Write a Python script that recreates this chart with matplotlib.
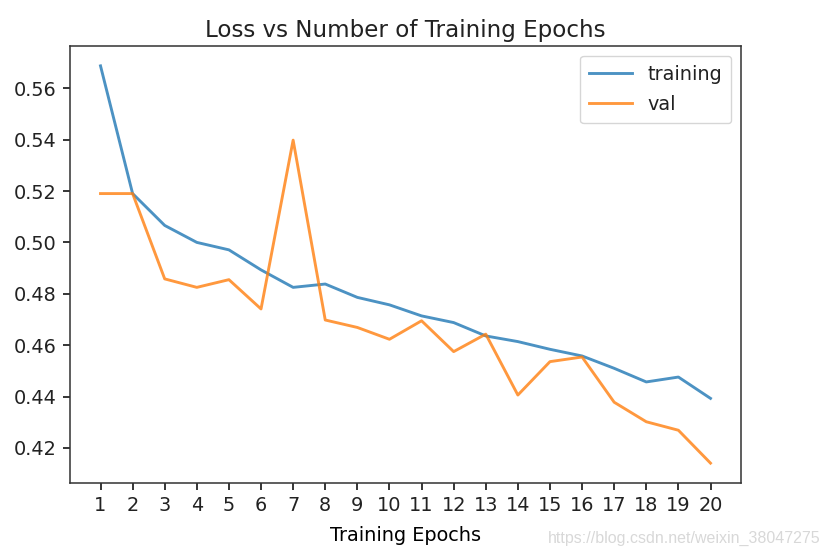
import numpy as np
import matplotlib
matplotlib.use("Agg")
import matplotlib.pyplot as plt

# loss values
epochs = list(range(1, 21))
train_loss = [0.5687, 0.5190, 0.5066, 0.5000, 0.4971, 0.4893, 0.4825, 0.4838,
              0.4786, 0.4757, 0.4714, 0.4688, 0.4636, 0.4614, 0.4584, 0.4558,
              0.4510, 0.4457, 0.4476, 0.4393]
val_loss = [0.5190, 0.5190, 0.4858, 0.4825, 0.4855, 0.4741, 0.5398, 0.4698,
            0.4669, 0.4623, 0.4695, 0.4575, 0.4643, 0.4406, 0.4536, 0.4554,
            0.4378, 0.4302, 0.4269, 0.4141]

s = 1.921 * 0.72  # jupyter figure scaled up in the screenshot

plt.rcParams['font.family'] = ['DejaVu Sans']
plt.rcParams['font.size'] = 10 * s
plt.rcParams['text.color'] = '#222222'
plt.rcParams['xtick.labelcolor'] = '#222222'
plt.rcParams['ytick.labelcolor'] = '#222222'
plt.rcParams['axes.linewidth'] = 0.8 * s
plt.rcParams['axes.edgecolor'] = '#333333'
plt.rcParams['xtick.major.width'] = 0.8 * s
plt.rcParams['ytick.major.width'] = 0.8 * s
plt.rcParams['xtick.major.size'] = 3.5 * s
plt.rcParams['ytick.major.size'] = 3.5 * s
plt.rcParams['xtick.major.pad'] = 3.5 * s
plt.rcParams['ytick.major.pad'] = 3.5 * s

W, H = 830, 556
fig = plt.figure(figsize=(W / 100, H / 100), dpi=100)
ax = fig.add_axes([70 / W, 1 - 483 / H, (741 - 70) / W, (483 - 46) / H])

ax.plot(epochs, train_loss, label="training", color="tab:blue", alpha=0.8, linewidth=1.5 * s)
ax.plot(epochs, val_loss, label="val", color="tab:orange", alpha=0.8, linewidth=1.5 * s)

ax.set_xticks(np.arange(1, 21))
ax.set_title("Loss vs Number of Training Epochs", fontsize=12 * s, pad=4.5 * s)
ax.set_xlabel("Training Epochs", labelpad=5.5 * s)
ax.set_ylabel("Loss")
ax.yaxis.set_label_coords(-70 / 671 - 0.035, 0.5)
ax.legend(loc="upper right", handlelength=2.2, borderpad=0.5, labelspacing=0.55)

fig.text(820 / W, 1 - 538 / H, "https://blog.csdn.net/weixin_38047275",
         family="Liberation Sans", fontsize=11.5, color="#d8d8d8",
         ha="right", va="center")

fig.savefig("out.png", dpi=100)
